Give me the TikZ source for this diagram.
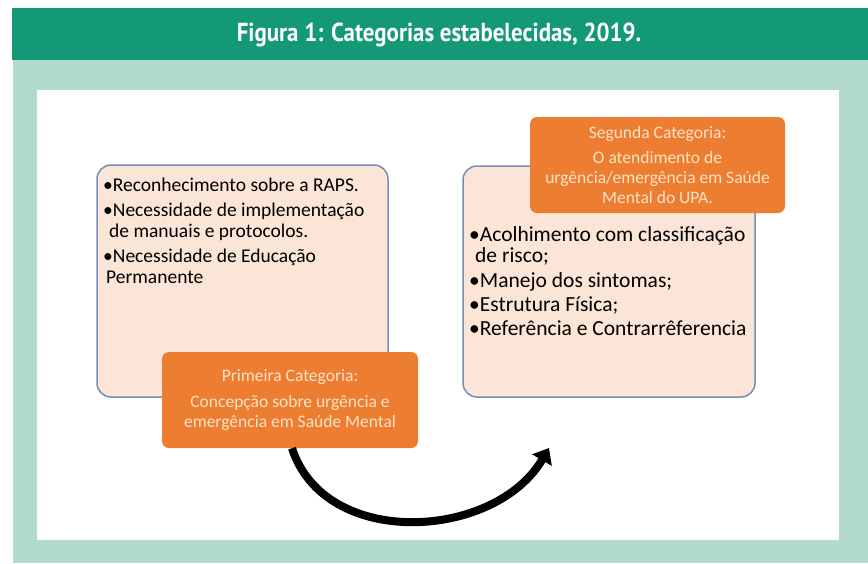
\documentclass[tikz,border=0pt]{standalone}
\usepackage{fontspec}
\setmainfont{Carlito}
\newfontfamily\titlefont[FakeStretch=0.88]{PT Sans}
\usetikzlibrary{positioning,arrows.meta}

\definecolor{titlegreen}{RGB}{20,153,118}
\definecolor{panelgreen}{RGB}{178,219,206}
\definecolor{boxfill}{RGB}{251,229,214}
\definecolor{boxline}{RGB}{120,140,185}
\definecolor{catorange}{RGB}{237,125,49}
\definecolor{cattext}{RGB}{253,228,200}

\tikzset{
  catbox/.style={draw=boxline, line width=1.5pt, fill=boxfill, rounded corners=14pt},
  cathead/.style={fill=catorange, rounded corners=7pt, text=cattext, align=center,
    font=\fontsize{17.5}{20}\selectfont},
  itemtext/.style={align=left, anchor=north west, inner sep=0pt},
}

\newcommand{\itm}[1]{\textbullet#1}

\begin{document}
\begin{tikzpicture}[x=1pt,y=-1pt]
  \useasboundingbox (0,0) rectangle (868,563);
  % moldura da figura
  \fill[white] (0,0) rectangle (868,563);
  \fill[panelgreen] (13,60) rectangle (868,563);
  \fill[titlegreen] (12,8) rectangle (868,60);
  \fill[white] (37,90) rectangle (839,540);
  \node[text=white, font=\titlefont\bfseries\fontsize{26}{30}\selectfont] (titulo) at (439,35)
    {Figura 1: Categorias estabelecidas, 2019.};

  % caixas das categorias
  \node[catbox, minimum width=291pt, minimum height=232pt] (caixaA) at (242.5,281) {};
  \node[catbox, minimum width=292pt, minimum height=231pt] (caixaB) at (609,281.5) {};

  \node[itemtext, font=\fontsize{19.5}{21.5}\selectfont] (itensA) at (103,178)
    {\itm{Reconhecimento sobre a RAPS.}\\[3pt]
     \itm{Necessidade de implementação}\\
     \hspace{6pt}de manuais e protocolos.\\[3pt]
     \itm{Necessidade de Educação}\\
     \hspace{3pt}Permanente};
  \node[itemtext, font=\fontsize{21.5}{21.5}\selectfont] (itensB) at (469,226)
    {\itm{Acolhimento com classificação}\\
     \hspace{6pt}de risco;\\[3pt]
     \itm{Manejo dos sintomas;}\\[2.5pt]
     \itm{Estrutura Física;}\\[2.5pt]
     \itm{Referência e Contrarrêferencia}};

  \node[cathead, minimum width=256pt, minimum height=96pt] (primeira) at (290,400)
    {Primeira Categoria:\\[6pt]
     Concepção sobre urgência e\\
     emergência em Saúde Mental};
  \node[cathead, minimum width=255pt, minimum height=96pt] (segunda) at (657.5,165)
    {Segunda Categoria:\\[5pt]
     O atendimento de\\
     urgência/emergência em Saúde\\
     Mental do UPA.};

  % seta entre as categorias
  \coordinate (fim) at (549,448);
  \draw[line width=8pt, -{Triangle[length=14pt, width=22pt]}]
    ([xshift=2pt]primeira.south) .. controls (325,550) and (495,540) .. (fim);
\end{tikzpicture}
\end{document}
